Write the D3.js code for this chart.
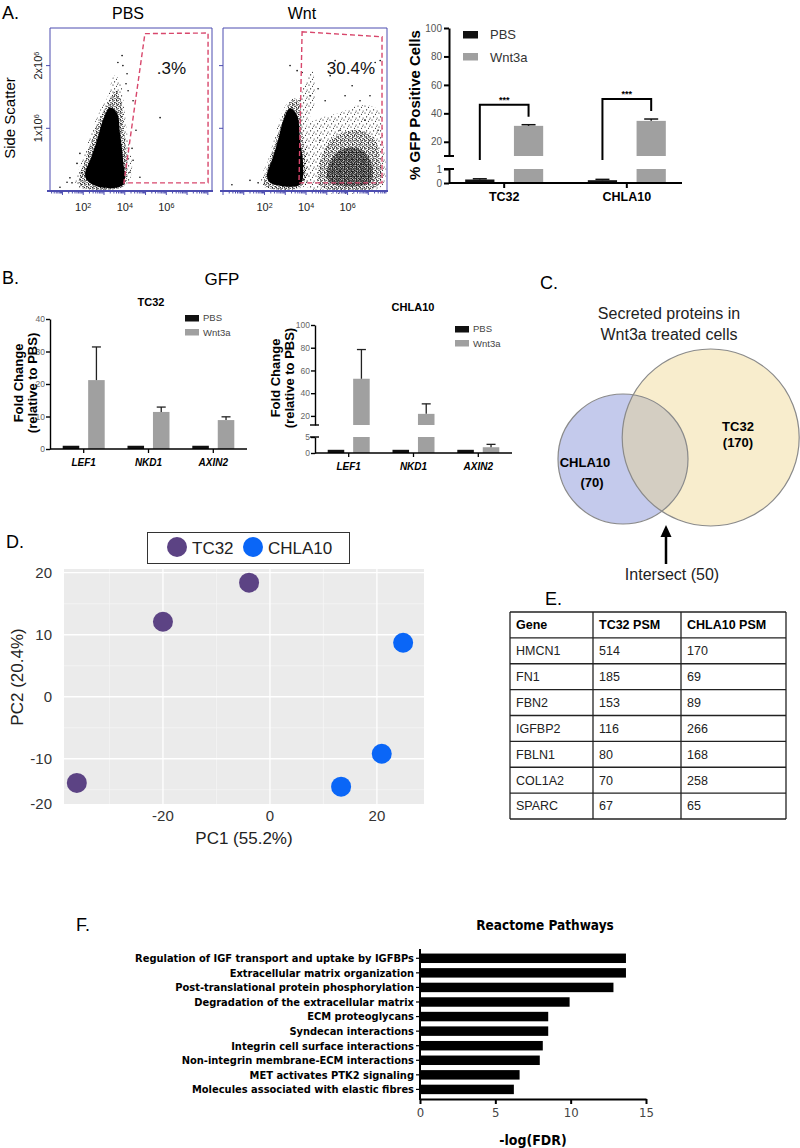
<!DOCTYPE html>
<html><head><meta charset="utf-8">
<script src="https://cdn.jsdelivr.net/npm/d3@7"></script>
<style>
body{margin:0;background:#fff;}
svg{display:block;font-family:"Liberation Sans",Arial,Helvetica,sans-serif;}
</style></head><body>
<svg id="fig" width="800" height="1148"></svg>
<script>
// ================= DATA =================
// Panel A: flow cytometry (x = log10 GFP, y = side scatter x10^6)
const flowTitles = ["PBS", "Wnt"];
const flowPercents = [".3%", "30.4%"];
const flowXTicks = [2, 4, 6];
const flowYTicks = [1, 2];
const pbsGate = [[4.97,2.51],[8.01,2.52],[8.01,0.13],[3.96,0.13]];
const pbsHalo = [[1.65,0.08],[4.01,0.08],[4.35,0.33],[4.16,0.81],[3.96,1.37],[3.77,1.76],[3.48,1.84],[3.19,1.52],[2.81,1.29],[2.42,0.97],[2.04,0.57],[1.75,0.30]];
const pbsMid = [[1.84,0.08],[3.96,0.08],[4.11,0.41],[3.96,0.97],[3.82,1.44],[3.58,1.60],[3.19,1.40],[2.81,1.16],[2.42,0.81],[2.09,0.49],[1.84,0.25]];
const pbsCore = [[2.18,0.17],[2.81,0.06],[3.92,0.10],[3.92,0.49],[3.77,0.92],[3.63,1.24],[3.29,1.33],[2.95,1.13],[2.66,0.81],[2.33,0.49],[2.09,0.29]];
const pbsDots = [[3.91,2.0],[4.11,1.87],[4.06,1.71],[4.40,1.44],[4.40,0.49],[4.73,0.22],[5.70,1.17],[0.88,0.06],[1.22,0.14],[1.46,0.13],[1.70,0.44],[1.84,0.60],[1.94,0.29],[4.25,0.30],[4.35,0.68],[3.67,2.05],[4.16,1.60],[1.36,0.21],[4.54,0.97],[3.87,2.16]];
const wntGate = [[3.81,2.54],[7.66,2.46],[7.66,0.13],[3.66,0.13]];
const wntLeftHalo = [[1.88,0.08],[3.95,0.08],[4.10,0.49],[4.0,0.97],[4.43,1.44],[4.29,1.92],[3.90,1.68],[3.61,1.44],[3.23,1.44],[2.84,1.25],[2.51,0.89],[2.17,0.49],[1.88,0.25]];
const wntLeftMid = [[2.02,0.08],[3.81,0.08],[3.95,0.49],[3.81,0.97],[3.71,1.37],[3.42,1.48],[3.08,1.32],[2.75,1.0],[2.41,0.65],[2.12,0.33]];
const wntLeftCore = [[2.27,0.13],[3.71,0.10],[3.86,0.41],[3.71,0.81],[3.57,1.21],[3.23,1.32],[2.94,1.16],[2.65,0.81],[2.36,0.49],[2.12,0.25]];
const wntRightHalo = [[3.95,0.08],[7.66,0.08],[7.71,0.81],[7.47,1.29],[6.60,1.37],[5.64,1.25],[4.67,1.16],[4.10,1.05],[3.95,0.65]];
const wntRightMid = [[4.67,0.08],[7.47,0.08],[7.57,0.49],[7.28,0.84],[6.60,0.97],[5.88,0.94],[5.16,0.81],[4.77,0.57],[4.58,0.30]];
const wntRightCore = [[5.16,0.13],[7.08,0.13],[7.18,0.41],[6.70,0.65],[5.88,0.68],[5.25,0.52],[5.01,0.30]];
const wntDots = [[3.57,1.92],[3.81,1.89],[5.16,1.84],[6.22,1.68],[6.60,1.44],[7.33,2.05],[7.57,2.08],[3.71,1.44],[4.19,1.52],[4.92,1.44],[5.88,1.52],[0.43,0.10],[1.30,0.17],[1.69,0.13],[7.08,1.52],[3.23,2.0],[6.36,1.92],[6.84,1.13],[5.64,0.97],[4.67,0.81],[7.47,0.97],[4.58,1.63],[5.40,2.08]];

// Panel A: % GFP positive cells
const gfpCells = ["TC32", "CHLA10"];
const gfpConds = ["PBS", "Wnt3a"];
const gfpPBS = [0.25, 0.2];
const gfpPBSErr = [0.05, 0.06];
const gfpWnt = [31.2, 34.7];
const gfpWntErr = [0.8, 1.3];
const gfpUpperTicks = [20, 40, 60, 80, 100];
const gfpLowerTicks = [0, 1];

// Panel B: qPCR fold change
const qpcrGenes = ["LEF1", "NKD1", "AXIN2"];
const tc32PBS = [1, 1, 1];
const tc32Wnt = [21.2, 11.4, 8.9];
const tc32WntErr = [10.2, 1.5, 1.0];
const tc32Ticks = [0, 10, 20, 30, 40];
const chlaPBS = [1, 1, 1];
const chlaWnt = [52.7, 21.8, 1.8];
const chlaWntErr = [25.7, 8.8, 0.9];
const chlaUpperTicks = [20, 40, 60, 80, 100];
const chlaLowerTicks = [0, 5];

// Panel C: Venn
const vennSets = ["CHLA10", "TC32"];
const vennCounts = [70, 170];
const vennIntersect = 50;
const vennTitle = ["Secreted proteins in", "Wnt3a treated cells"];

// Panel D: PCA
const pcaGroups = ["TC32", "CHLA10"];
const pcaTC32 = [[-3.9, 18.4], [-20.0, 12.1], [-36.1, -13.9]];
const pcaCHLA10 = [[24.9, 8.7], [20.9, -9.2], [13.3, -14.5]];
const pcaXTicks = [-20, 0, 20];
const pcaYTicks = [20, 10, 0, -10, -20];

// Panel E: table
const tableHeader = ["Gene", "TC32 PSM", "CHLA10 PSM"];
const tableGenes = ["HMCN1", "FN1", "FBN2", "IGFBP2", "FBLN1", "COL1A2", "SPARC"];
const tableTC32 = [514, 185, 153, 116, 80, 70, 67];
const tableCHLA10 = [170, 69, 89, 266, 168, 258, 65];

// Panel F: Reactome
const pathways = ["Regulation of IGF transport and uptake by IGFBPs","Extracellular matrix organization","Post-translational protein phosphorylation","Degradation of the extracellular matrix","ECM proteoglycans","Syndecan interactions","Integrin cell surface interactions","Non-integrin membrane-ECM interactions","MET activates PTK2 signaling","Molecules associated with elastic fibres"];
const pathwayScores = [13.67, 13.67, 12.84, 9.93, 8.51, 8.51, 8.15, 7.95, 6.61, 6.23];
const fdrTicks = [0, 5, 10, 15];

// ================= DRAWING =================
const svg = d3.select("#fig");
const NARROW = '"Liberation Sans Narrow","DejaVu Sans Condensed","Liberation Sans",sans-serif';
const GRAY = "#a0a0a0";
const intFmt = d3.format("d");

function txt(g, x, y, s, o = {}) {
  const t = g.append("text").attr("x", x).attr("y", y).attr("dy", "0.35em").text(s)
    .attr("font-size", o.size || 12).attr("text-anchor", o.anchor || "middle").attr("fill", o.fill || "#000");
  if (o.weight) t.attr("font-weight", o.weight);
  if (o.style) t.attr("font-style", o.style);
  if (o.family) t.attr("font-family", o.family);
  if (o.rotate) t.attr("transform", `rotate(${o.rotate},${x},${y})`);
  return t;
}
function supTxt(g, x, y, base, sup, o = {}) {
  const t = g.append("text").attr("x", x).attr("y", y).attr("dy", "0.35em")
    .attr("font-size", o.size || 11).attr("text-anchor", "middle").attr("fill", o.fill || "#222");
  if (o.rotate) t.attr("transform", `rotate(${o.rotate},${x},${y})`);
  t.append("tspan").text(base);
  t.append("tspan").attr("dy", "-0.45em").attr("font-size", (o.size || 11) * 0.65).text(sup);
  return t;
}

// panel letters
[["A.", 2, 13], ["B.", 2, 278], ["C.", 540, 283], ["D.", 6, 542], ["E.", 545, 599], ["F.", 76, 925]]
  .forEach(d => txt(svg, d[1], d[2], d[0], { size: 18, anchor: "start" }));

// ---------- Panel A flow ----------
const defs = svg.append("defs");
function pattern(id, w, h, dots) {
  const p = defs.append("pattern").attr("id", id).attr("width", w).attr("height", h).attr("patternUnits", "userSpaceOnUse");
  dots.forEach(d => p.append("circle").attr("cx", d[0]).attr("cy", d[1]).attr("r", d[2]).attr("fill", "#000"));
}
pattern("speckSparse", 7, 7, [[1, 1, 0.6], [4.5, 2.2, 0.55], [2.6, 4.8, 0.6], [6.1, 5.9, 0.5], [5.4, 0.2, 0.45]]);
pattern("speckMid", 4, 4, [[1, 1, 0.75], [3, 2.6, 0.7], [0.4, 3.4, 0.55], [2.4, 0.3, 0.5]]);
pattern("speckDense", 2.4, 2.4, [[1, 1, 0.9], [2.2, 2.1, 0.55]]);

const flowYDomain = [0, 2.6];
const flowCfg = [
  { x0: 50, x1: 212, dom: [0.4, 8.2], gate: pbsGate, halos: [pbsHalo], mids: [pbsMid], dense: [], cores: [pbsCore], dots: pbsDots, pct: 0.75, yLabels: true },
  { x0: 223, x1: 387, dom: [0, 7.9], gate: wntGate, halos: [wntLeftHalo, wntRightHalo], mids: [wntLeftMid, wntRightMid], dense: [wntRightCore], cores: [wntLeftCore], dots: wntDots, pct: 0.78, yLabels: false }
];
flowCfg.forEach((c, i) => {
  const g = svg.append("g");
  const x = d3.scaleLinear().domain(c.dom).range([c.x0, c.x1]);
  const y = d3.scaleLinear().domain(flowYDomain).range([191, 28]);
  const blob = d3.line().x(d => x(d[0])).y(d => y(d[1])).curve(d3.curveCatmullRomClosed.alpha(0.5));
  c.halos.forEach(h => g.append("path").attr("d", blob(h)).attr("fill", "url(#speckSparse)"));
  c.mids.forEach(h => g.append("path").attr("d", blob(h)).attr("fill", "url(#speckMid)"));
  c.dense.forEach(h => g.append("path").attr("d", blob(h)).attr("fill", "url(#speckDense)"));
  c.cores.forEach(h => g.append("path").attr("d", blob(h)).attr("fill", "#000"));
  g.selectAll("circle.dot").data(c.dots).join("circle").attr("class", "dot")
    .attr("cx", d => x(d[0])).attr("cy", d => y(d[1])).attr("r", 0.8).attr("fill", "#000");
  const gate = d3.line().x(d => x(d[0])).y(d => y(d[1])).curve(d3.curveLinearClosed);
  g.append("path").attr("d", gate(c.gate)).attr("fill", "none").attr("stroke", "#d8476c")
    .attr("stroke-width", 1.4).attr("stroke-dasharray", "5,3");
  const fc = "#4d4db0";
  const [rx0, rx1] = x.range(), [ry0, ry1] = y.range();
  g.append("path").attr("d", `M${rx0},${ry0}V${ry1}H${rx1}V${ry0}`).attr("fill", "none").attr("stroke", fc).attr("stroke-width", 1);
  g.append("line").attr("x1", rx0 - 3).attr("x2", rx1 + 1).attr("y1", ry0).attr("y2", ry0).attr("stroke", fc).attr("stroke-width", 1.8);
  const minor = [];
  for (let n = Math.floor(c.dom[0]); n <= Math.ceil(c.dom[1]); n++)
    for (let k = 1; k <= 9; k++) { const v = n + Math.log10(k); if (v >= c.dom[0] && v <= c.dom[1]) minor.push([v, k === 1]); }
  g.selectAll("line.mt").data(minor).join("line").attr("class", "mt")
    .attr("x1", d => x(d[0])).attr("x2", d => x(d[0])).attr("y1", ry0).attr("y2", d => ry0 + (d[1] ? 4 : 2.5))
    .attr("stroke", fc).attr("stroke-width", 1);
  flowYTicks.forEach(t => {
    g.append("line").attr("x1", rx0 - 4).attr("x2", rx0).attr("y1", y(t)).attr("y2", y(t)).attr("stroke", fc);
    if (c.yLabels) supTxt(g, 38, y(t), t + "x10", "6", { size: 11, rotate: -90 });
  });
  flowXTicks.forEach(t => supTxt(g, x(t), 207, "10", String(t), { size: 11 }));
  txt(g, (rx0 + rx1) / 2 - 3, 13, flowTitles[i], { size: 16 });
  txt(g, rx0 + c.pct * (rx1 - rx0), 68, flowPercents[i], { size: 17, fill: "#111" });
});
txt(svg, 10, 118, "Side Scatter", { size: 15, rotate: -90 });

// ---------- helpers for broken-axis bars ----------
function yOf(v, yL, yU) { return (!yU || v <= yL.domain()[1]) ? yL(v) : yU(v); }
function barRect(g, xl, w, v, yL, yU, fill) {
  const lowTop = yL.domain()[1];
  if (!yU || v <= lowTop) {
    g.append("rect").attr("x", xl).attr("width", w).attr("y", yL(v)).attr("height", yL(0) - yL(v)).attr("fill", fill);
  } else {
    g.append("rect").attr("x", xl).attr("width", w).attr("y", yL(lowTop)).attr("height", yL(0) - yL(lowTop)).attr("fill", fill);
    g.append("rect").attr("x", xl).attr("width", w).attr("y", yU(v)).attr("height", yU(yU.domain()[0]) - yU(v)).attr("fill", fill);
  }
}
function errBar(g, cx, v, e, yL, yU, cap, color, sw) {
  const y0 = yOf(v, yL, yU), y1 = yOf(v + e, yL, yU);
  g.append("line").attr("x1", cx).attr("x2", cx).attr("y1", y0).attr("y2", y1).attr("stroke", color).attr("stroke-width", sw);
  g.append("line").attr("x1", cx - cap / 2).attr("x2", cx + cap / 2).attr("y1", y1).attr("y2", y1).attr("stroke", color).attr("stroke-width", sw);
}
function styleAxis(sel, sw, fs, fill) {
  sel.select(".domain").attr("stroke", "#000").attr("stroke-width", sw);
  sel.selectAll(".tick line").attr("stroke", "#000").attr("stroke-width", sw);
  sel.selectAll(".tick text").attr("font-size", fs).attr("fill", fill).attr("font-family", '"Liberation Sans",Arial,sans-serif');
}

// ---------- Panel A bar chart ----------
{
  const g = svg.append("g");
  const gx = d3.scalePoint().domain(gfpCells).range([449, 682]).padding(0.45);
  const sub = d3.scaleBand().domain(gfpConds).range([-39, 39]).paddingInner(0.4);
  const yU = d3.scaleLinear().domain([10, 100]).range([156, 28]);
  const yL = d3.scaleLinear().domain([0, 1]).range([183, 169]);
  const bw = sub.bandwidth();
  gfpCells.forEach((c, i) => {
    const xp = gx(c) + sub("PBS"), xw = gx(c) + sub("Wnt3a");
    barRect(g, xp, bw, gfpPBS[i], yL, yU, "#111");
    barRect(g, xw, bw, gfpWnt[i], yL, yU, GRAY);
    errBar(g, xp + bw / 2, gfpPBS[i], gfpPBSErr[i], yL, yU, 14, "#111", 1.5);
    errBar(g, xw + bw / 2, gfpWnt[i], gfpWntErr[i], yL, yU, 14, "#111", 1.5);
    const top = yU(gfpWnt[i] + gfpWntErr[i]) - 20;
    const lx = xp + bw / 2, rxx = xw + bw / 2;
    g.append("path").attr("d", `M${lx},${yU(10) + 4}V${top}H${rxx}V${top + 12}`)
      .attr("fill", "none").attr("stroke", "#000").attr("stroke-width", 2);
    txt(g, (lx + rxx) / 2, top - 5, "***", { size: 9, weight: "bold" });
    txt(g, gx(c), 197, c, { size: 12.5, weight: "bold" });
  });
  const ax = g.append("g").attr("transform", "translate(449,0)").call(d3.axisLeft(yU).tickValues(gfpUpperTicks).tickFormat(intFmt).tickSize(5).tickPadding(2).tickSizeOuter(0));
  styleAxis(ax, 2, 10, "#555");
  const ax2 = g.append("g").attr("transform", "translate(449,0)").call(d3.axisLeft(yL).tickValues(gfpLowerTicks).tickFormat(intFmt).tickSize(5).tickPadding(2).tickSizeOuter(0));
  styleAxis(ax2, 2, 10, "#555");
  [yU(10), yL(1)].forEach(yy => g.append("line").attr("x1", 444).attr("x2", 454).attr("y1", yy).attr("y2", yy).attr("stroke", "#000").attr("stroke-width", 2));
  g.append("line").attr("x1", 449).attr("x2", 682).attr("y1", yL(0)).attr("y2", yL(0)).attr("stroke", "#000").attr("stroke-width", 2);
  gfpCells.forEach(c => g.append("line").attr("x1", gx(c)).attr("x2", gx(c)).attr("y1", yL(0)).attr("y2", yL(0) + 5).attr("stroke", "#000").attr("stroke-width", 2));
  gfpConds.forEach((c, i) => {
    g.append("rect").attr("x", 463).attr("y", 31 + i * 22).attr("width", 15).attr("height", 7.5).attr("fill", i ? GRAY : "#111");
    txt(g, 490, 34.7 + i * 22.6, c, { size: 13, anchor: "start", fill: "#333" });
  });
  txt(g, 415, 105, "% GFP Positive Cells", { size: 15, weight: "bold", rotate: -90 });
}

// ---------- Panel B ----------
txt(svg, 222, 279, "GFP", { size: 17 });
function qpcrPanel(cfg) {
  const g = svg.append("g");
  const gx = d3.scalePoint().domain(qpcrGenes).range([cfg.x0, cfg.x1]).padding(0.52);
  const sub = d3.scaleBand().domain(gfpConds).range([-21, 21]).paddingInner(0.35);
  const bw = sub.bandwidth();
  const yL = cfg.yL, yU = cfg.yU;
  qpcrGenes.forEach((gn, i) => {
    const xp = gx(gn) + sub("PBS"), xw = gx(gn) + sub("Wnt3a");
    barRect(g, xp, bw, cfg.pbs[i], yL, yU, "#111");
    barRect(g, xw, bw, cfg.wnt[i], yL, yU, GRAY);
    errBar(g, xw + bw / 2, cfg.wnt[i], cfg.wntErr[i], yL, yU, 9, "#222", 1.3);
    txt(g, gx(gn), yL(0) + 13, gn, { size: 10, weight: "bold", style: "italic" });
    g.append("line").attr("x1", gx(gn)).attr("x2", gx(gn)).attr("y1", yL(0)).attr("y2", yL(0) + 4).attr("stroke", "#000").attr("stroke-width", 1.3);
  });
  const a1 = g.append("g").attr("transform", `translate(${cfg.x0},0)`).call(d3.axisLeft(yL).tickValues(cfg.lowTicks).tickFormat(intFmt).tickSize(4).tickPadding(1).tickSizeOuter(0));
  styleAxis(a1, 1.4, 8.5, "#666");
  if (yU) {
    const a2 = g.append("g").attr("transform", `translate(${cfg.x0},0)`).call(d3.axisLeft(yU).tickValues(cfg.upTicks).tickFormat(intFmt).tickSize(4).tickPadding(1).tickSizeOuter(0));
    styleAxis(a2, 1.4, 8.5, "#666");
    [yU(yU.domain()[0]), yL(yL.domain()[1])].forEach(yy => g.append("line").attr("x1", cfg.x0 - 5).attr("x2", cfg.x0 + 4).attr("y1", yy).attr("y2", yy).attr("stroke", "#000").attr("stroke-width", 1.4));
  }
  g.append("line").attr("x1", cfg.x0).attr("x2", cfg.x1).attr("y1", yL(0)).attr("y2", yL(0)).attr("stroke", "#000").attr("stroke-width", 1.4);
  txt(g, cfg.titleX, cfg.titleY, cfg.title, { size: 11, weight: "bold" });
  gfpConds.forEach((c, i) => {
    g.append("rect").attr("x", cfg.legX).attr("y", cfg.legY + i * 14 - 3).attr("width", 14).attr("height", 6.5).attr("fill", i ? GRAY : "#111");
    txt(g, cfg.legX + 18, cfg.legY + i * 14.5, c, { size: 9.5, anchor: "start", fill: "#444" });
  });
  txt(g, cfg.labX, cfg.labY, "Fold Change", { size: 13, weight: "bold", rotate: -90 });
  txt(g, cfg.labX + 14.5, cfg.labY, "(relative to PBS)", { size: 13, weight: "bold", rotate: -90 });
}
qpcrPanel({ x0: 50, x1: 247, yL: d3.scaleLinear().domain([0, 40]).range([449, 319]), yU: null,
  lowTicks: tc32Ticks, pbs: tc32PBS, wnt: tc32Wnt, wntErr: tc32WntErr, title: "TC32", titleX: 151, titleY: 302,
  legX: 185, legY: 318, labX: 18, labY: 383 });
qpcrPanel({ x0: 315, x1: 512, yL: d3.scaleLinear().domain([0, 5]).range([453, 437]), yU: d3.scaleLinear().domain([12, 100]).range([425, 325]),
  lowTicks: chlaLowerTicks, upTicks: chlaUpperTicks, pbs: chlaPBS, wnt: chlaWnt, wntErr: chlaWntErr, title: "CHLA10", titleX: 413, titleY: 307,
  legX: 455, legY: 329, labX: 275, labY: 378 });

// ---------- Panel C Venn ----------
{
  const g = svg.append("g");
  const circ = { CHLA10: { cx: 623, cy: 459, r: 65 }, TC32: { cx: 710.7, cy: 437.5, r: 88.5 } };
  defs.append("clipPath").attr("id", "clipBlue").append("circle").attr("cx", circ.CHLA10.cx).attr("cy", circ.CHLA10.cy).attr("r", circ.CHLA10.r);
  g.append("circle").attr("cx", circ.TC32.cx).attr("cy", circ.TC32.cy).attr("r", circ.TC32.r).attr("fill", "#f8edcd");
  g.append("circle").attr("cx", circ.CHLA10.cx).attr("cy", circ.CHLA10.cy).attr("r", circ.CHLA10.r).attr("fill", "#c4caec");
  g.append("circle").attr("cx", circ.TC32.cx).attr("cy", circ.TC32.cy).attr("r", circ.TC32.r).attr("fill", "#d4cec2").attr("clip-path", "url(#clipBlue)");
  vennSets.forEach(s => g.append("circle").attr("cx", circ[s].cx).attr("cy", circ[s].cy).attr("r", circ[s].r).attr("fill", "none").attr("stroke", "#8a8a8a").attr("stroke-width", 1.2));
  txt(g, 669, 313, vennTitle[0], { size: 16, fill: "#222" });
  txt(g, 669, 334, vennTitle[1], { size: 16, fill: "#222" });
  txt(g, 738, 426, vennSets[1], { size: 13, weight: "bold" });
  txt(g, 738, 442, `(${vennCounts[1]})`, { size: 13, weight: "bold" });
  txt(g, 585, 462, vennSets[0], { size: 13, weight: "bold" });
  txt(g, 592, 482, `(${vennCounts[0]})`, { size: 13, weight: "bold" });
  g.append("line").attr("x1", 666).attr("x2", 666).attr("y1", 564).attr("y2", 534).attr("stroke", "#000").attr("stroke-width", 2.5);
  g.append("path").attr("d", "M666,525L660.5,537L671.5,537Z").attr("fill", "#000");
  txt(g, 672, 574, `Intersect (${vennIntersect})`, { size: 16, fill: "#222" });
}

// ---------- Panel D PCA ----------
{
  const g = svg.append("g");
  const x = d3.scaleLinear().domain([-38.5, 28.8]).range([64, 424]);
  const y = d3.scaleLinear().domain([-17.3, 20.6]).range([804, 569]).clamp(true);
  g.append("rect").attr("x", 64).attr("y", 569).attr("width", 360).attr("height", 235).attr("fill", "#ebebeb");
  const xMinor = [-30, -10, 10], yMinor = [15, 5, -5, -15];
  xMinor.forEach(v => g.append("line").attr("x1", x(v)).attr("x2", x(v)).attr("y1", 569).attr("y2", 804).attr("stroke", "#f6f6f6").attr("stroke-width", 0.7));
  yMinor.forEach(v => g.append("line").attr("y1", y(v)).attr("y2", y(v)).attr("x1", 64).attr("x2", 424).attr("stroke", "#f6f6f6").attr("stroke-width", 0.7));
  pcaXTicks.forEach(v => g.append("line").attr("x1", x(v)).attr("x2", x(v)).attr("y1", 569).attr("y2", 804).attr("stroke", "#fff").attr("stroke-width", 1.3));
  pcaYTicks.filter(v => v > -17 && v < 20.6).forEach(v => g.append("line").attr("y1", y(v)).attr("y2", y(v)).attr("x1", 64).attr("x2", 424).attr("stroke", "#fff").attr("stroke-width", 1.3));
  const colors = { TC32: "#5c4384", CHLA10: "#0a66f7" };
  [[pcaTC32, "TC32"], [pcaCHLA10, "CHLA10"]].forEach(([pts, k]) =>
    g.selectAll(null).data(pts).join("circle").attr("cx", d => x(d[0])).attr("cy", d => y(d[1])).attr("r", 10).attr("fill", colors[k]));
  pcaYTicks.forEach(v => txt(g, 52, y(v), String(v), { size: 15, anchor: "end", fill: "#333" }));
  pcaXTicks.forEach(v => txt(g, x(v), 816, String(v), { size: 15, fill: "#333" }));
  txt(g, 17, 677, "PC2 (20.4%)", { size: 17, rotate: -90, fill: "#222" });
  txt(g, 244, 838, "PC1 (55.2%)", { size: 17, fill: "#222" });
  g.append("rect").attr("x", 147.5).attr("y", 532.5).attr("width", 202).attr("height", 31).attr("fill", "#fff").attr("stroke", "#333").attr("stroke-width", 1);
  const legX = d3.scalePoint().domain(pcaGroups).range([177, 253]);
  pcaGroups.forEach(k => {
    g.append("circle").attr("cx", legX(k)).attr("cy", 547).attr("r", 10).attr("fill", colors[k]);
    txt(g, legX(k) + 15, 548, k, { size: 17, anchor: "start", fill: "#222" });
  });
}

// ---------- Panel E table ----------
{
  const g = svg.append("g");
  const cols = [510, 593, 681, 786];
  const rows = d3.scaleBand().domain(d3.range(tableGenes.length + 1)).range([612, 819]);
  const top = rows.range()[0], bot = rows.range()[1];
  cols.forEach(c => g.append("line").attr("x1", c).attr("x2", c).attr("y1", top).attr("y2", bot).attr("stroke", "#222").attr("stroke-width", 1.3));
  d3.range(tableGenes.length + 2).forEach(i => {
    const yy = top + i * rows.step();
    g.append("line").attr("x1", cols[0]).attr("x2", cols[3]).attr("y1", yy).attr("y2", yy).attr("stroke", "#222").attr("stroke-width", 1.3);
  });
  tableHeader.forEach((h, j) => txt(g, cols[j] + 6, rows(0) + rows.step() / 2, h, { size: 12.5, weight: "bold", anchor: "start" }));
  tableGenes.forEach((gn, i) => {
    const yy = rows(i + 1) + rows.step() / 2;
    txt(g, cols[0] + 6, yy, gn, { size: 12.5, anchor: "start", fill: "#222" });
    txt(g, cols[1] + 6, yy, String(tableTC32[i]), { size: 12.5, anchor: "start", fill: "#222" });
    txt(g, cols[2] + 6, yy, String(tableCHLA10[i]), { size: 12.5, anchor: "start", fill: "#222" });
  });
}

// ---------- Panel F Reactome ----------
{
  const g = svg.append("g");
  const x = d3.scaleLinear().domain([0, 15]).range([420, 646]);
  const y = d3.scaleBand().domain(pathways).range([951, 1096.7]).paddingInner(0.35).paddingOuter(0.175);
  g.selectAll("rect.bar").data(pathways).join("rect").attr("class", "bar")
    .attr("x", x(0)).attr("y", d => y(d)).attr("height", y.bandwidth())
    .attr("width", (d, i) => x(pathwayScores[i]) - x(0)).attr("fill", "#000");
  g.append("line").attr("x1", x(0)).attr("x2", x(0)).attr("y1", 949).attr("y2", 1100).attr("stroke", "#000").attr("stroke-width", 2);
  pathways.forEach(p => {
    const yy = y(p) + y.bandwidth() / 2;
    g.append("line").attr("x1", x(0) - 4).attr("x2", x(0)).attr("y1", yy).attr("y2", yy).attr("stroke", "#000").attr("stroke-width", 1.2);
    txt(g, x(0) - 6, yy, p, { size: 11, weight: "bold", anchor: "end", family: NARROW });
  });
  const ax = g.append("g").attr("transform", "translate(0,1099)").call(d3.axisBottom(x).tickValues(fdrTicks).tickSize(5).tickPadding(4).tickSizeOuter(0));
  styleAxis(ax, 2, 13, "#444");
  ax.selectAll(".tick text").attr("font-family", NARROW);
  txt(g, 545, 925, "Reactome Pathways", { size: 13.5, weight: "bold", family: NARROW });
  txt(g, 533, 1140, "-log(FDR)", { size: 14, weight: "bold", family: NARROW });
}
</script></body></html>
